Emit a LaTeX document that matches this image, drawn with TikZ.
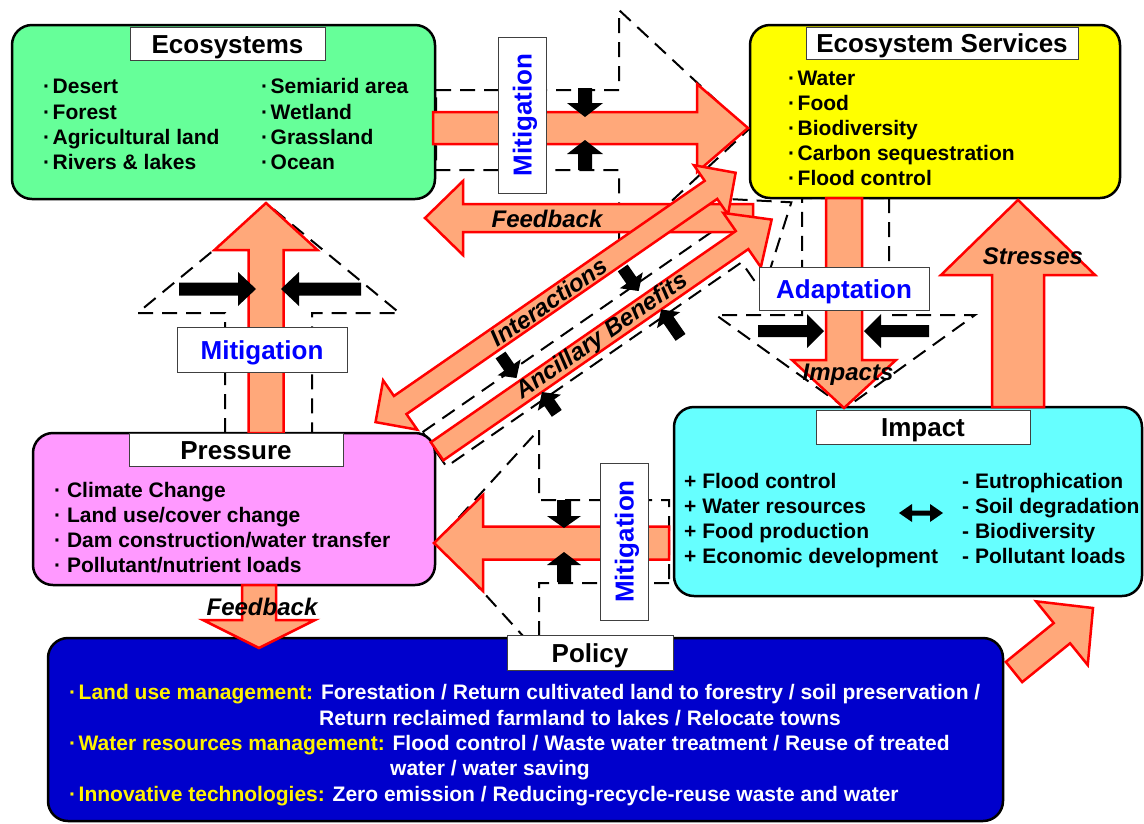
\documentclass[tikz,border=0pt]{standalone}
\usepackage{fontspec}
\setmainfont{Liberation Sans}
\usepackage{tikz}
\usetikzlibrary{arrows,calc}

\definecolor{ecogreen}{RGB}{102,255,153}
\definecolor{esyellow}{RGB}{255,255,0}
\definecolor{prpink}{RGB}{255,153,255}
\definecolor{imcyan}{RGB}{102,255,255}
\definecolor{podark}{RGB}{0,0,204}
\definecolor{salmon}{RGB}{255,168,122}

\newcommand{\dotitem}{\textperiodcentered\hspace{2.5pt}}

% fat arrow: [style]{tail}{tip}{half shaft}{half head}{head length}
\newcommand{\fatarrow}[6][fat]{%
  \coordinate (hb) at ($(#3)!#6!(#2)$);
  \path[#1] ($(#2)!#4!90:(#3)$) -- ($(hb)!#4!90:(#3)$) -- ($(hb)!#5!90:(#3)$) -- (#3)
    -- ($(hb)!#5!-90:(#3)$) -- ($(hb)!#4!-90:(#3)$) -- ($(#2)!#4!-90:(#3)$) -- cycle;}
\newcommand{\fatdouble}[6][fat]{%
  \coordinate (ha) at ($(#2)!#6!(#3)$);
  \coordinate (hb) at ($(#3)!#6!(#2)$);
  \path[#1] (#2) -- ($(ha)!#5!90:(#3)$) -- ($(ha)!#4!90:(#3)$) -- ($(hb)!#4!90:(#3)$)
    -- ($(hb)!#5!90:(#3)$) -- (#3) -- ($(hb)!#5!-90:(#3)$) -- ($(hb)!#4!-90:(#3)$)
    -- ($(ha)!#4!-90:(#3)$) -- ($(ha)!#5!-90:(#3)$) -- cycle;}

\tikzset{
  panel/.style={draw=black, line width=2.5pt, rounded corners=20pt, inner sep=0pt},
  title/.style={draw=black!75, fill=white, line width=1pt, inner sep=0pt,
    text height=19pt, text depth=0pt, font=\fontsize{26}{26}\selectfont\bfseries},
  tag/.style={draw=black!75, fill=white, line width=1pt, inner sep=0pt, text=blue,
    text height=19pt, text depth=0pt, font=\fontsize{26}{26}\selectfont\bfseries},
  item/.style={anchor=base west, inner sep=0pt, font=\fontsize{21}{21}\selectfont\bfseries},
  lbl/.style={inner sep=0pt, font=\fontsize{24}{24}\selectfont\bfseries\itshape},
  fat/.style={fill=salmon, draw=red, line width=2.5pt, line join=miter},
  push/.style={fill=black},
  funnel/.style={draw=black, line width=2pt, dash pattern=on 15pt off 9pt, line join=miter},
}

\begin{document}
\begin{tikzpicture}[x=1pt,y=-1pt,line cap=butt,>=triangle 45]
\useasboundingbox (0,0) rectangle (1144,823);

% dashed funnels
\coordinate (f1a) at (436,130);
\coordinate (f1b) at (748,130);
\fatarrow[funnel]{f1a}{f1b}{40pt}{120pt}{129pt}
\coordinate (f2a) at (268.5,433);
\coordinate (f2b) at (268.5,205);
\fatarrow[funnel]{f2a}{f2b}{43.5pt}{131pt}{108pt}
\coordinate (f3a) at (845.5,198);
\coordinate (f3b) at (845.5,408);
\fatarrow[funnel]{f3a}{f3b}{43.5pt}{129.5pt}{93pt}
\coordinate (f4a) at (669,541.5);
\coordinate (f4b) at (437,541.5);
\fatarrow[funnel]{f4a}{f4b}{41.5pt}{112pt}{102pt}

% diagonal band, local frame along the arrows
\begin{scope}[shift={(549,302)},rotate=34.7]
\coordinate (f5a) at (-178,56);
\coordinate (f5b) at (256,56);
\coordinate (ia) at (-211,0);
\coordinate (ib) at (227,0);
\coordinate (aa) at (-177,59);
\coordinate (ab) at (230,59);
\coordinate (k1a) at (80,14);
\coordinate (k1b) at (80,42);
\coordinate (k2a) at (-70,16);
\coordinate (k2b) at (-70,44);
\coordinate (k3a) at (88,104);
\coordinate (k3b) at (88,70);
\coordinate (k4a) at (-57,96);
\coordinate (k4b) at (-57,70);
\coordinate (intl) at (0,0);
\coordinate (ancl) at (24,59);
\end{scope}
\fatarrow[funnel]{f5a}{f5b}{21pt}{58pt}{75pt}

% panels
\node[panel, fill=ecogreen, minimum width=423pt, minimum height=174pt] (eco) at (223.5,112) {};
\node[panel, fill=esyellow, minimum width=370pt, minimum height=173pt] (serv) at (935,111.5) {};
\node[panel, fill=prpink, minimum width=402pt, minimum height=152pt] (press) at (234,509) {};
\node[panel, fill=imcyan, minimum width=468pt, minimum height=189pt] (imp) at (908,501.5) {};
\node[panel, fill=podark, minimum width=955pt, minimum height=183pt] (pol) at (525.5,729.5) {};

% salmon arrows
\coordinate (e2s-a) at (433,128);
\coordinate (e2s-b) at (748,128);
\fatarrow{e2s-a}{e2s-b}{16pt}{44pt}{51pt}
\coordinate (s2e-a) at (753,218);
\coordinate (s2e-b) at (425,218);
\fatarrow{s2e-a}{s2e-b}{14pt}{37pt}{38pt}
\fatdouble{ia}{ib}{11pt}{30pt}{30pt}
\fatarrow{aa}{ab}{11pt}{33pt}{36pt}
\coordinate (p2e-a) at (266,433);
\coordinate (p2e-b) at (266,203);
\fatarrow{p2e-a}{p2e-b}{17.5pt}{51.5pt}{47pt}
\coordinate (s2i-a) at (844,198);
\coordinate (s2i-b) at (844,408);
\fatarrow{s2i-a}{s2i-b}{18pt}{52pt}{48pt}
\coordinate (i2s-a) at (1018,407);
\coordinate (i2s-b) at (1018,200);
\fatarrow{i2s-a}{i2s-b}{26pt}{77pt}{75pt}
\coordinate (p2p-a) at (259,585);
\coordinate (p2p-b) at (259,648);
\fatarrow{p2p-a}{p2p-b}{17pt}{56pt}{28pt}
\coordinate (i2p-a) at (669,543);
\coordinate (i2p-b) at (434,543);
\fatarrow{i2p-a}{i2p-b}{16.5pt}{48pt}{49pt}
\coordinate (p2i-a) at (1014,672);
\coordinate (p2i-b) at (1093,608);
\fatarrow{p2i-a}{p2i-b}{13pt}{41pt}{40pt}

% black squeeze arrows
\coordinate (k5a) at (585,88);
\coordinate (k5b) at (585,117);
\fatarrow[push]{k5a}{k5b}{7pt}{18pt}{14pt}
\coordinate (k6a) at (585,170);
\coordinate (k6b) at (585,140);
\fatarrow[push]{k6a}{k6b}{7pt}{18pt}{14pt}
\coordinate (k7a) at (179,289);
\coordinate (k7b) at (256,289);
\fatarrow[push]{k7a}{k7b}{6.5pt}{17pt}{18pt}
\coordinate (k8a) at (361,289);
\coordinate (k8b) at (281,289);
\fatarrow[push]{k8a}{k8b}{6.5pt}{17pt}{18pt}
\coordinate (k9a) at (758,331);
\coordinate (k9b) at (824,331);
\fatarrow[push]{k9a}{k9b}{6pt}{17pt}{17pt}
\coordinate (k10a) at (929,331);
\coordinate (k10b) at (864,331);
\fatarrow[push]{k10a}{k10b}{6pt}{17pt}{17pt}
\coordinate (k11a) at (564,500);
\coordinate (k11b) at (564,528);
\fatarrow[push]{k11a}{k11b}{7pt}{17pt}{12pt}
\coordinate (k12a) at (564,582);
\coordinate (k12b) at (564,552);
\fatarrow[push]{k12a}{k12b}{7pt}{17pt}{13pt}
\fatarrow[push]{k1a}{k1b}{6pt}{14pt}{13pt}
\fatarrow[push]{k2a}{k2b}{6pt}{14pt}{13pt}
\fatarrow[push]{k3a}{k3b}{6pt}{14pt}{13pt}
\fatarrow[push]{k4a}{k4b}{6pt}{14pt}{13pt}

% titles and tags
\node[title, minimum width=195pt, minimum height=33pt] (eco-t) at (227.5,43.5) {Ecosystems};
\node[title, minimum width=272pt, minimum height=32pt] (serv-t) at (942,43) {Ecosystem Services};
\node[title, minimum width=214pt, minimum height=33pt] (press-t) at (236,449.5) {Pressure};
\node[title, minimum width=214pt, minimum height=34pt] (imp-t) at (923,427) {Impact};
\node[title, minimum width=166pt, minimum height=35pt] (pol-t) at (590,652.5) {Policy};
\node[tag, rotate=90, minimum width=156pt, minimum height=48pt] (mit-top) at (522,115) {Mitigation};
\node[tag, minimum width=170pt, minimum height=45pt] (mit-left) at (262,349.5) {Mitigation};
\node[tag, rotate=90, minimum width=157pt, minimum height=48pt] (mit-bot) at (624,541.5) {Mitigation};
\node[tag, minimum width=170pt, minimum height=43pt] (adapt) at (844,288.5) {Adaptation};

% arrow labels
\node[lbl] (fb-top) at (547,219) {Feedback};
\node[lbl] (fb-bot) at (262,607) {Feedback};
\node[lbl] (impacts) at (848,375) {Impacts};
\node[lbl] (stress) at (1033,256) {Stresses};
\node[lbl, rotate=34.7] (inter) at (intl) {Interactions};
\node[lbl, rotate=34.7] (ancil) at (ancl) {Ancillary Benefits};

% ecosystems
\node[item] (eco-1) at (43,93) {\dotitem Desert};
\node[item] (eco-2) at (43,119) {\dotitem Forest};
\node[item] (eco-3) at (43,144) {\dotitem Agricultural land};
\node[item] (eco-4) at (43,169) {\dotitem Rivers \& lakes};
\node[item] (eco-5) at (261,93) {\dotitem Semiarid area};
\node[item] (eco-6) at (261,119) {\dotitem Wetland};
\node[item] (eco-7) at (261,144) {\dotitem Grassland};
\node[item] (eco-8) at (261,169) {\dotitem Ocean};

% ecosystem services
\node[item] (serv-1) at (788,85) {\dotitem Water};
\node[item] (serv-2) at (788,110) {\dotitem Food};
\node[item] (serv-3) at (788,135) {\dotitem Biodiversity};
\node[item] (serv-4) at (788,160) {\dotitem Carbon sequestration};
\node[item] (serv-5) at (788,185) {\dotitem Flood control};

% pressure
\node[item] (press-1) at (54,497) {\textperiodcentered\ Climate Change};
\node[item] (press-2) at (54,522) {\textperiodcentered\ Land use/cover change};
\node[item] (press-3) at (54,547) {\textperiodcentered\ Dam construction/water transfer};
\node[item] (press-4) at (54,572) {\textperiodcentered\ Pollutant/nutrient loads};

% impact
\node[item] (imp-1) at (684,488) {+ Flood control};
\node[item] (imp-2) at (684,513) {+ Water resources};
\node[item] (imp-3) at (684,538) {+ Food production};
\node[item] (imp-4) at (684,563) {+ Economic development};
\node[item] (imp-5) at (962,488) {- Eutrophication};
\node[item] (imp-6) at (962,513) {- Soil degradation};
\node[item] (imp-7) at (962,538) {- Biodiversity};
\node[item] (imp-8) at (962,563) {- Pollutant loads};
\coordinate (tr-l) at (899,513);
\coordinate (tr-r) at (943,513);
\fatdouble[push]{tr-l}{tr-r}{2.5pt}{9pt}{13pt}

% policy
\node[item, text=white] (pol-1) at (69,699) {\textcolor{yellow}{\dotitem Land use management:} Forestation / Return cultivated land to forestry / soil preservation /};
\node[item, text=white] (pol-2) at (319,725) {Return reclaimed farmland to lakes / Relocate towns};
\node[item, text=white] (pol-3) at (69,750) {\textcolor{yellow}{\dotitem Water resources management:} Flood control / Waste water treatment / Reuse of treated};
\node[item, text=white] (pol-4) at (390,775) {water / water saving};
\node[item, text=white] (pol-5) at (69,801) {\textcolor{yellow}{\dotitem Innovative technologies:} Zero emission / Reducing-recycle-reuse waste and water};
\end{tikzpicture}
\end{document}
